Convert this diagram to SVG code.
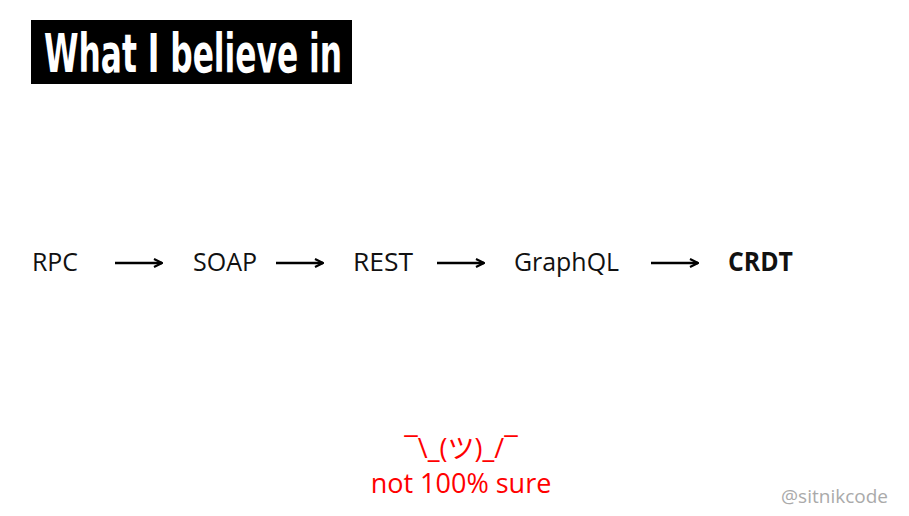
<svg xmlns="http://www.w3.org/2000/svg" width="909" height="516" viewBox="0 0 909 516">
<style>
.t{font-family:"Open Sans","Noto Sans",sans-serif;font-size:26px;fill:#111}
.b{font-weight:bold}
.c{stroke:#000;stroke-width:2.5;fill:none}
.r{font-family:"Open Sans","Noto Sans CJK JP",sans-serif;font-size:27px;fill:#ff0000;text-anchor:middle}
</style>
<defs>
<marker id="ah" viewBox="0 0 10 10" refX="9" refY="5" markerWidth="10" markerHeight="10" markerUnits="userSpaceOnUse" orient="auto">
<path d="M1,1 L9,5 L1,9" fill="none" stroke="#000" stroke-width="2.2"/>
</marker>
</defs>
<rect width="909" height="516" fill="#fff"/>
<g id="title">
<rect x="31" y="20" width="321" height="64" fill="#000"/>
<text x="44" y="72" font-family="'Liberation Sans Narrow','DejaVu Sans Condensed',sans-serif" font-weight="bold" font-size="53" fill="#fff" textLength="298" lengthAdjust="spacingAndGlyphs">What I believe in</text>
</g>
<g id="n-rpc"><text class="t" x="32" y="271" textLength="46" lengthAdjust="spacingAndGlyphs">RPC</text></g>
<g id="n-soap"><text class="t" x="193" y="271" textLength="64" lengthAdjust="spacingAndGlyphs">SOAP</text></g>
<g id="n-rest"><text class="t" x="353" y="271" textLength="60" lengthAdjust="spacingAndGlyphs">REST</text></g>
<g id="n-graphql"><text class="t" x="514" y="271" textLength="105" lengthAdjust="spacingAndGlyphs">GraphQL</text></g>
<g id="n-crdt"><text class="t b" x="728" y="271" textLength="65" lengthAdjust="spacingAndGlyphs">CRDT</text></g>
<g id="connectors">
<line class="c" x1="115" y1="263" x2="162" y2="263" marker-end="url(#ah)"/>
<line class="c" x1="276" y1="263" x2="323" y2="263" marker-end="url(#ah)"/>
<line class="c" x1="437" y1="263" x2="484" y2="263" marker-end="url(#ah)"/>
<line class="c" x1="651" y1="263" x2="698" y2="263" marker-end="url(#ah)"/>
</g>
<g id="note">
<text class="r" x="461" y="458">¯\_(ツ)_/¯</text>
<text class="r" x="461" y="493">not 100% sure</text>
</g>
<g id="credit"><text x="888" y="503" text-anchor="end" font-family="'Open Sans',sans-serif" font-size="19" fill="#aaa">@sitnikcode</text></g>
</svg>
